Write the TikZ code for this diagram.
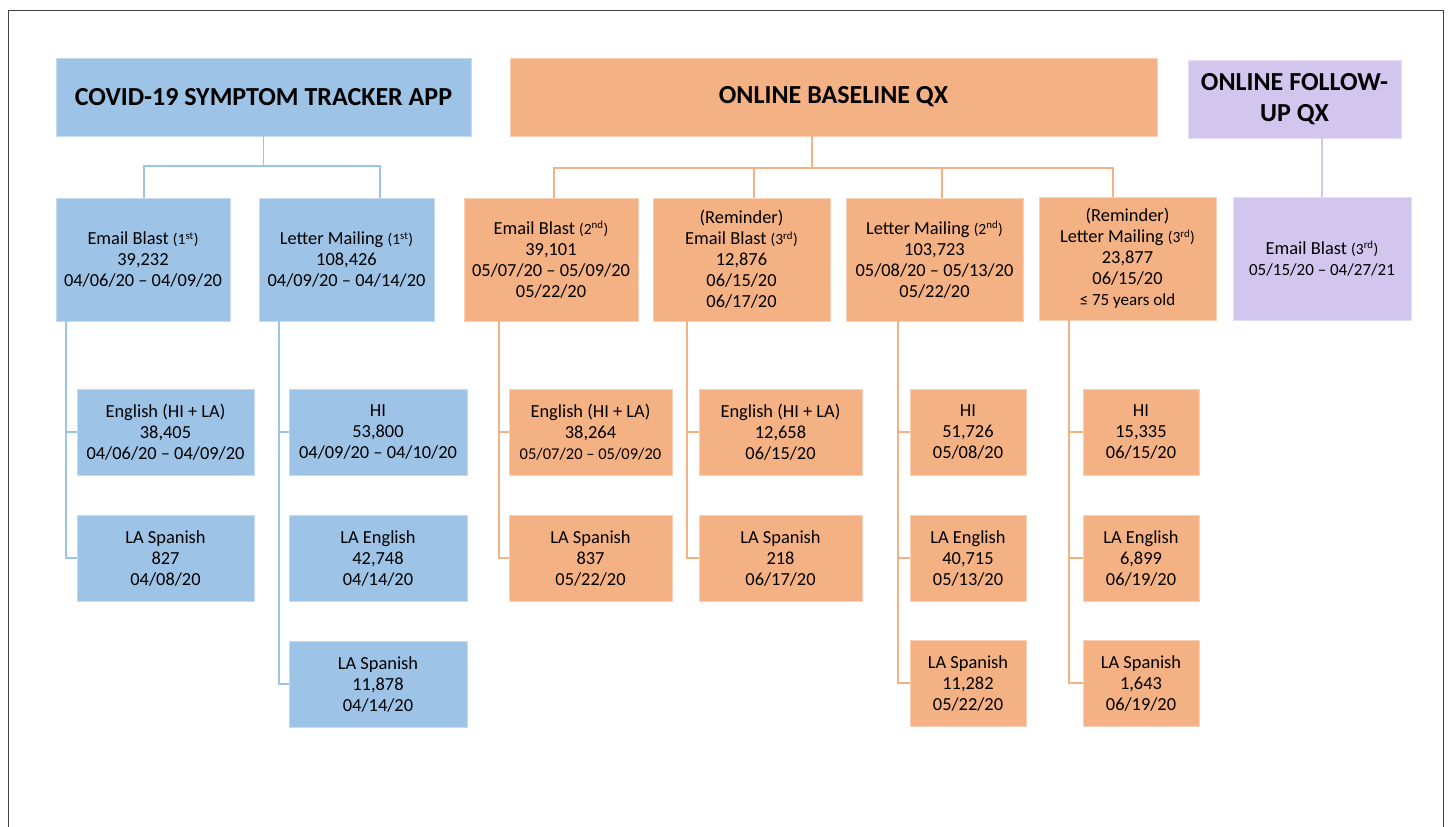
\documentclass[tikz,border=0pt]{standalone}
\usepackage{fontspec}
\setmainfont{Carlito}
\definecolor{cblue}{HTML}{9DC3E6}
\definecolor{corange}{HTML}{F4B183}
\definecolor{cpurple}{HTML}{D3C6EE}
\definecolor{cframe}{HTML}{404040}
\newcommand{\ordn}[2]{{\fontsize{15.5}{15.5}\selectfont(#1\textsuperscript{#2})}}
\newcommand{\smallerdate}[1]{{\fontsize{16.5}{21}\selectfont #1}}
\begin{document}
\begin{tikzpicture}[x=1pt,y=-1pt,
  box/.style={inner sep=0pt, align=center, font=\fontsize{18.4}{21}\selectfont, text=black, line width=0.6pt},
  bbox/.style={box, fill=cblue, draw=cblue!60!white},
  obox/.style={box, fill=corange, draw=corange!60!white},
  pbox/.style={box, fill=cpurple, draw=cpurple!60!white},
  ttl/.style={font=\fontsize{26}{31}\selectfont\bfseries},
  bl/.style={draw=cblue, line width=1.3pt},
  ol/.style={draw=corange, line width=1.3pt},
  pl/.style={draw=cpurple, line width=1.3pt}]
\useasboundingbox (0,0) rectangle (1448,827);
% frame
\draw[cframe, line width=0.9pt] (8.5,827) -- (8.5,10.5) -- (1443.5,10.5) -- (1443.5,827);

% ---------- top boxes ----------
\node[bbox, ttl, minimum width=415pt, minimum height=78pt] (app) at (263.5,97) {COVID-19 SYMPTOM TRACKER APP};
\node[obox, ttl, minimum width=647pt, minimum height=78pt] (bq) at (833.5,97) {ONLINE BASELINE QX};
\node[pbox, ttl, minimum width=213pt, minimum height=78pt] (fq) at (1294.5,99) {ONLINE FOLLOW-\\UP QX};

% ---------- level 2 ----------
\node[bbox, minimum width=174pt, minimum height=123pt] (eb1) at (143,259.5) {Email Blast \ordn{1}{st}\\39,232\\04/06/20 -- 04/09/20};
\node[bbox, minimum width=175pt, minimum height=123pt] (lm1) at (346.5,259.5) {Letter Mailing \ordn{1}{st}\\108,426\\04/09/20 -- 04/14/20};

\node[obox, minimum width=174pt, minimum height=123pt] (eb2) at (551,259.5) {Email Blast \ordn{2}{nd}\\39,101\\05/07/20 -- 05/09/20\\05/22/20};
\node[obox, minimum width=177pt, minimum height=123pt] (reb3) at (741.5,259.5) {(Reminder)\\Email Blast \ordn{3}{rd}\\12,876\\06/15/20\\06/17/20};
\node[obox, minimum width=177pt, minimum height=123pt] (lm2) at (934.5,259.5) {Letter Mailing \ordn{2}{nd}\\103,723\\05/08/20 -- 05/13/20\\05/22/20};
\node[obox, minimum width=177pt, minimum height=123pt] (rlm3) at (1127.5,258.5) {(Reminder)\\Letter Mailing \ordn{3}{rd}\\23,877\\06/15/20\\{\fontsize{17}{20}\selectfont ≤ 75 years old}};

\node[pbox, minimum width=178pt, minimum height=123pt] (eb3p) at (1322,258.5) {Email Blast \ordn{3}{rd}\\{\fontsize{17}{20}\selectfont 05/15/20 -- 04/27/21}};

% ---------- level 3 (blue) ----------
\node[bbox, minimum width=177pt, minimum height=86pt] (eng1) at (165.5,432) {English (HI + LA)\\38,405\\04/06/20 -- 04/09/20};
\node[bbox, minimum width=177pt, minimum height=86pt] (spa1) at (165.5,558) {LA Spanish\\827\\04/08/20};
\node[bbox, minimum width=178pt, minimum height=86pt] (hi1) at (378,432) {HI\\53,800\\04/09/20 -- 04/10/20};
\node[bbox, minimum width=178pt, minimum height=86pt] (lae1) at (378,558) {LA English\\42,748\\04/14/20};
\node[bbox, minimum width=178pt, minimum height=86pt] (las1) at (378,684) {LA Spanish\\11,878\\04/14/20};

% ---------- level 3 (orange) ----------
\node[obox, minimum width=163pt, minimum height=86pt] (eng2) at (590.5,432) {English (HI + LA)\\38,264\\\smallerdate{05/07/20 -- 05/09/20}};
\node[obox, minimum width=163pt, minimum height=86pt] (spa2) at (590.5,558) {LA Spanish\\837\\05/22/20};
\node[obox, minimum width=163pt, minimum height=86pt] (eng3) at (780.5,432) {English (HI + LA)\\12,658\\06/15/20};
\node[obox, minimum width=163pt, minimum height=86pt] (spa3) at (780.5,558) {LA Spanish\\218\\06/17/20};
\node[obox, minimum width=116pt, minimum height=86pt] (hi2) at (968,432) {HI\\51,726\\05/08/20};
\node[obox, minimum width=116pt, minimum height=86pt] (lae2) at (968,558) {LA English\\40,715\\05/13/20};
\node[obox, minimum width=116pt, minimum height=86pt] (las2) at (968,683) {LA Spanish\\11,282\\05/22/20};
\node[obox, minimum width=116pt, minimum height=86pt] (hi3) at (1141,432) {HI\\15,335\\06/15/20};
\node[obox, minimum width=116pt, minimum height=86pt] (lae3) at (1141,558) {LA English\\6,899\\06/19/20};
\node[obox, minimum width=116pt, minimum height=86pt] (las3) at (1141,683) {LA Spanish\\1,643\\06/19/20};

% ---------- connectors: blue ----------
\coordinate (bj1) at (144,166);
\coordinate (bj2) at (380,166);
\draw[bl] (app.south) -- (app.south |- bj1);
\draw[bl] (eb1.north -| bj1) -- (bj1) -- (bj2) -- (lm1.north -| bj2);
\coordinate (bv1) at (66,0);
\coordinate (bv2) at (279,0);
\draw[bl] (eb1.south -| bv1) |- (eng1.west);
\draw[bl] (eb1.south -| bv1) |- (spa1.west);
\draw[bl] (lm1.south -| bv2) |- (hi1.west);
\draw[bl] (lm1.south -| bv2) |- (las1.west);

% ---------- connectors: orange ----------
\coordinate (oj1) at (554,168);
\coordinate (oj2) at (754,168);
\coordinate (oj3) at (942,168);
\coordinate (oj4) at (1113,168);
\coordinate (ojc) at (812,168);
\draw[ol] (bq.south -| ojc) -- (ojc);
\draw[ol] (eb2.north -| oj1) -- (oj1) -- (oj4) -- (rlm3.north -| oj4);
\draw[ol] (oj2) -- (reb3.north -| oj2);
\draw[ol] (oj3) -- (lm2.north -| oj3);
\coordinate (ov1) at (499,0);
\coordinate (ov2) at (687,0);
\coordinate (ov3) at (898,0);
\coordinate (ov4) at (1069,0);
\draw[ol] (eb2.south -| ov1) |- (eng2.west);
\draw[ol] (eb2.south -| ov1) |- (spa2.west);
\draw[ol] (reb3.south -| ov2) |- (eng3.west);
\draw[ol] (reb3.south -| ov2) |- (spa3.west);
\draw[ol] (lm2.south -| ov3) |- (hi2.west);
\draw[ol] (lm2.south -| ov3) |- (lae2.west);
\draw[ol] (lm2.south -| ov3) |- (las2.west);
\draw[ol] (rlm3.south -| ov4) |- (hi3.west);
\draw[ol] (rlm3.south -| ov4) |- (lae3.west);
\draw[ol] (rlm3.south -| ov4) |- (las3.west);

% ---------- connector: purple ----------
\draw[pl] (fq.south -| eb3p.north) -- (eb3p.north);
\end{tikzpicture}
\end{document}
